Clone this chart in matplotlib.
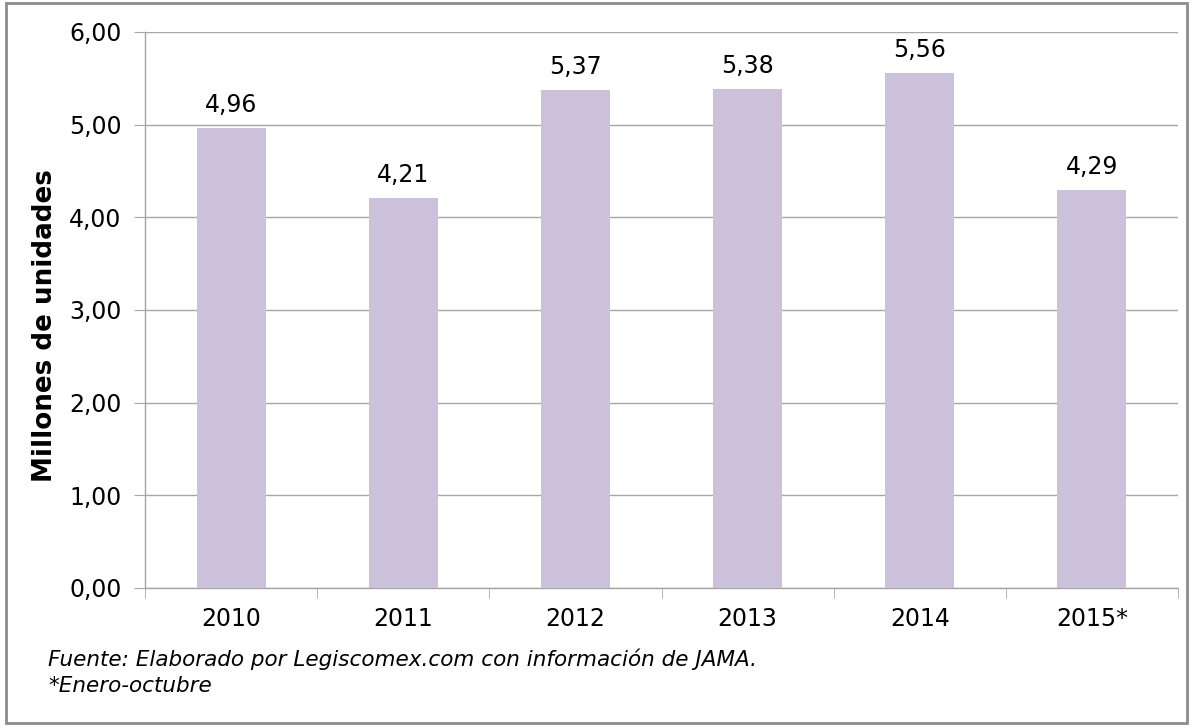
import matplotlib
matplotlib.use("Agg")
import matplotlib.pyplot as plt
from matplotlib.patches import Rectangle

years = ["2010", "2011", "2012", "2013", "2014", "2015*"]
valores = [4.96, 4.21, 5.37, 5.38, 5.56, 4.29]
y_ticks = [0, 1, 2, 3, 4, 5, 6]

BAR_COLOR = "#CCC1DA"
GRID_COLOR = "#A6A6A6"
FS = 17

W, H = 1193, 726
fig = plt.figure(figsize=(W / 100, H / 100), dpi=100)
plt.rcParams["font.family"] = ["DejaVu Sans"]

# marco exterior
fig.patches.append(Rectangle((6 / W, 3 / H), (W - 12) / W, (H - 6) / H,
                             transform=fig.transFigure, fill=False,
                             edgecolor="#8C8C8C", linewidth=2))

ax = fig.add_axes([145 / W, 1 - 588 / H, (1178 - 145) / W, (588 - 32) / H])
x = range(len(years))
ax.bar(x, valores, width=0.4, color=BAR_COLOR, zorder=3)
ax.set_xlim(-0.5, len(years) - 0.5)
ax.set_ylim(0, 6)
ax.set_yticks(y_ticks)
ax.set_yticklabels([f"{v:.2f}".replace(".", ",") for v in y_ticks], fontsize=FS)
ax.set_xticks(list(x))
ax.set_xticklabels(years, fontsize=FS)
ax.set_xticks([i - 0.5 for i in range(len(years) + 1)], minor=True)
ax.tick_params(axis="x", which="major", length=0, pad=14)
ax.tick_params(axis="x", which="minor", length=7, color=GRID_COLOR, direction="out")
ax.tick_params(axis="y", length=8, color=GRID_COLOR, pad=9)
ax.grid(axis="y", color=GRID_COLOR, linewidth=1, zorder=0)

for s in ("top", "right"):
    ax.spines[s].set_visible(False)
for s in ("left", "bottom"):
    ax.spines[s].set_color(GRID_COLOR)
    ax.spines[s].set_linewidth(1)

for i, v in enumerate(valores):
    ax.annotate(f"{v:.2f}".replace(".", ","), (i, v), xytext=(0, 11.5),
                textcoords="offset points", ha="center", va="baseline", fontsize=FS)

ax.set_ylabel("Millones de unidades", fontsize=18.8, fontweight="bold")
ax.yaxis.set_label_coords(45 / W, 1 - 326 / H, transform=fig.transFigure)
ax.yaxis.label.set_va("center")

fig.text(48 / W, 1 - 659 / H, "Fuente: Elaborado por Legiscomex.com con información de JAMA.",
         fontsize=15.5, style="italic", va="center")
fig.text(48 / W, 1 - 686 / H, "*Enero-octubre", fontsize=15.5, style="italic", va="center")

fig.savefig("out.png", dpi=100)
